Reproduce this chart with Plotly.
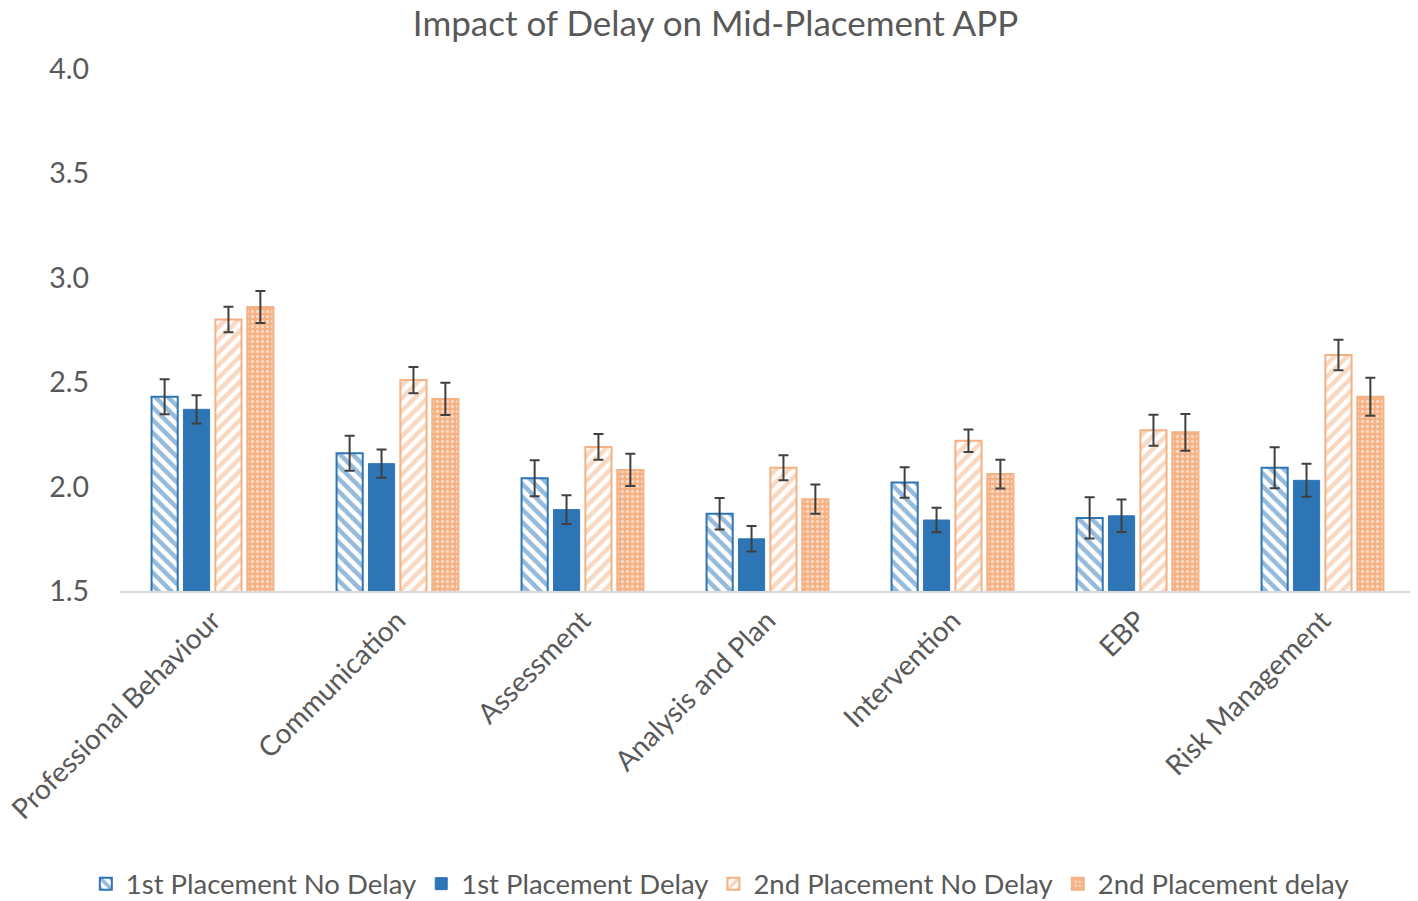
import plotly.graph_objects as go

categories = ["Professional Behaviour", "Communication", "Assessment", "Analysis and Plan",
              "Intervention", "EBP", "Risk Management"]

first_no_delay = [2.43, 2.16, 2.04, 1.87, 2.02, 1.85, 2.09]
first_no_delay_err = [0.084, 0.084, 0.086, 0.075, 0.073, 0.099, 0.098]

first_delay = [2.37, 2.11, 1.89, 1.75, 1.84, 1.86, 2.03]
first_delay_err = [0.068, 0.068, 0.069, 0.061, 0.059, 0.078, 0.079]

second_no_delay = [2.80, 2.51, 2.19, 2.09, 2.22, 2.27, 2.63]
second_no_delay_err = [0.061, 0.063, 0.062, 0.060, 0.054, 0.074, 0.073]

second_delay = [2.86, 2.42, 2.08, 1.94, 2.06, 2.26, 2.43]
second_delay_err = [0.077, 0.077, 0.077, 0.070, 0.069, 0.088, 0.091]

BLUE = "#2E75B6"
ORANGE = "#F4B183"
ERR = "#404040"
TXT = "#595959"
FONT = "Lato, 'Open Sans', sans-serif"


def err(vals):
    return dict(type="data", array=vals, color=ERR, thickness=2, width=5)


fig = go.Figure()

fig.add_trace(go.Bar(
    x=categories, y=first_no_delay, name="1st Placement No Delay",
    error_y=err(first_no_delay_err),
    marker=dict(color="white", line=dict(color=BLUE, width=2),
                pattern=dict(shape="\\", fgcolor=BLUE, bgcolor="white", size=9, solidity=0.5)),
))
fig.add_trace(go.Bar(
    x=categories, y=first_delay, name="1st Placement Delay",
    error_y=err(first_delay_err),
    marker=dict(color=BLUE, line=dict(color=BLUE, width=1)),
))
fig.add_trace(go.Bar(
    x=categories, y=second_no_delay, name="2nd Placement No Delay",
    error_y=err(second_no_delay_err),
    marker=dict(color="white", line=dict(color=ORANGE, width=2),
                pattern=dict(shape="/", fgcolor=ORANGE, bgcolor="white", size=9, solidity=0.5)),
))
fig.add_trace(go.Bar(
    x=categories, y=second_delay, name="2nd Placement delay",
    error_y=err(second_delay_err),
    marker=dict(color=ORANGE, line=dict(color=ORANGE, width=2),
                pattern=dict(shape=".", fgcolor="white", bgcolor=ORANGE, size=5, solidity=0.35)),
))

fig.update_layout(
    width=1418, height=901,
    margin=dict(l=112, r=11, t=61, b=318, autoexpand=False),
    paper_bgcolor="white", plot_bgcolor="white",
    font=dict(family=FONT, color=TXT, size=28.5),
    title=dict(text="Impact of Delay on Mid-Placement APP", x=0.499, xanchor="center",
               y=0.982, yanchor="middle", font=dict(size=35, color=TXT)),
    barmode="group", bargap=0.31, bargroupgap=0.18,
    showlegend=True,
    legend=dict(orientation="h", xref="container", yref="container",
                x=0.502, xanchor="center", y=0.028, yanchor="middle",
                font=dict(size=27.5, color=TXT), itemwidth=30, tracegroupgap=0),
)
fig.update_yaxes(range=[1.5, 4.0], tickvals=[1.5, 2.0, 2.5, 3.0, 3.5, 4.0],
                 ticktext=["1.5", "2.0", "2.5", "3.0", "3.5", "4.0"],
                 showgrid=False, zeroline=False, showline=False, automargin=False,
                 ticks="", ticklabelstandoff=30, tickfont=dict(size=28.5, color=TXT))
fig.update_xaxes(showline=True, linecolor="#D9D9D9", linewidth=2, tickangle=-45,
                 automargin=False, ticks="", showgrid=False,
                 tickfont=dict(size=28, color=TXT))

fig.write_html("out.html")
